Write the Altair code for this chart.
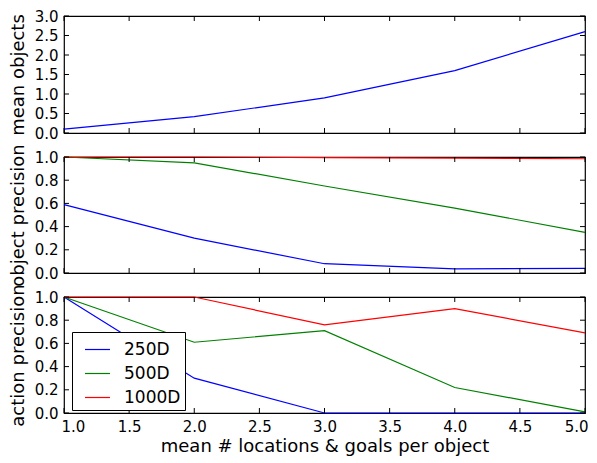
import altair as alt
import pandas as pd

x_vals = [1, 2, 3, 4, 5]
mean_objects = [0.1, 0.42, 0.9, 1.6, 2.6]

series_names = ["250D", "500D", "1000D"]
obj_prec_250 = [0.59, 0.30, 0.08, 0.035, 0.04]
obj_prec_500 = [1.0, 0.95, 0.75, 0.56, 0.35]
obj_prec_1000 = [1.0, 1.0, 0.995, 0.99, 0.985]
act_prec_250 = [1.0, 0.30, 0.0, 0.0, 0.0]
act_prec_500 = [1.0, 0.61, 0.71, 0.22, 0.01]
act_prec_1000 = [1.0, 1.0, 0.76, 0.90, 0.69]

x_ticks = [1.0, 1.5, 2.0, 2.5, 3.0, 3.5, 4.0, 4.5, 5.0]
y_ticks_top = [0.0, 0.5, 1.0, 1.5, 2.0, 2.5, 3.0]
y_ticks_prec = [0.0, 0.2, 0.4, 0.6, 0.8, 1.0]

colors = ["#0000ff", "#008000", "#ff0000"]

W = 521
FONT = "DejaVu Sans"
TICK = 5

df_top = pd.DataFrame({"x": x_vals, "y": mean_objects})


def long_df(lists):
    rows = []
    for name, vals in zip(series_names, lists):
        for xv, yv in zip(x_vals, vals):
            rows.append({"x": xv, "y": yv, "series": name})
    return pd.DataFrame(rows)


df_obj = long_df([obj_prec_250, obj_prec_500, obj_prec_1000])
df_act = long_df([act_prec_250, act_prec_500, act_prec_1000])

xscale = alt.Scale(domain=[1, 5], nice=False, zero=False)
color_scale = alt.Scale(domain=series_names, range=colors)


def yaxis(title, vals):
    return alt.Axis(title=title, values=vals, format=".1f", ticks=False,
                    domain=False, grid=False, labelPadding=6, titlePadding=7,
                    labelFlush=False, labelOverlap=False)


def xaxis(show):
    if show:
        return alt.Axis(title="mean # locations & goals per object", values=x_ticks,
                        format=".1f", ticks=False, domain=False, grid=False,
                        labelPadding=6, titlePadding=3, labelFlush=True,
                        labelFlushOffset=3, labelOverlap=False)
    return alt.Axis(title=None, labels=False, ticks=False, domain=False, grid=False)


def tick_layers(yscale, yt, H, xax, yax):
    xt = pd.DataFrame({"x": x_ticks})
    ytd = pd.DataFrame({"y": yt})
    layers = []
    for y0, y1 in [(0, TICK), (H - TICK, H)]:
        layers.append(
            alt.Chart(xt).mark_rule(color="black", strokeWidth=1).encode(
                x=alt.X("x:Q", scale=xscale, axis=xax),
                y=alt.value(y0), y2=alt.value(y1)))
    for x0, x1 in [(0, TICK), (W - TICK, W)]:
        layers.append(
            alt.Chart(ytd).mark_rule(color="black", strokeWidth=1).encode(
                y=alt.Y("y:Q", scale=yscale, axis=yax),
                x=alt.value(x0), x2=alt.value(x1)))
    return layers


# top panel
ys_top = alt.Scale(domain=[0, 3], nice=False)
H1 = 117
xa1 = xaxis(False)
ya1 = yaxis("mean objects", y_ticks_top)
top_line = alt.Chart(df_top).mark_line(strokeWidth=1.2, color="#0000ff").encode(
    x=alt.X("x:Q", scale=xscale, axis=xa1),
    y=alt.Y("y:Q", scale=ys_top, axis=ya1),
)
top = alt.layer(top_line, *tick_layers(ys_top, y_ticks_top, H1, xa1, ya1)).properties(width=W, height=H1)

# middle panel
ys_p = alt.Scale(domain=[0, 1], nice=False)
H2 = 116
xa2 = xaxis(False)
ya2 = yaxis("object precision", y_ticks_prec)
mid_line = alt.Chart(df_obj).mark_line(strokeWidth=1.2).encode(
    x=alt.X("x:Q", scale=xscale, axis=xa2),
    y=alt.Y("y:Q", scale=ys_p, axis=ya2),
    color=alt.Color("series:N", scale=color_scale, sort=series_names, legend=None),
    detail="series:N",
)
mid = alt.layer(mid_line, *tick_layers(ys_p, y_ticks_prec, H2, xa2, ya2)).properties(width=W, height=H2)

# bottom panel
H3 = 116
xa3 = xaxis(True)
ya3 = yaxis("action precision", y_ticks_prec)
bot_line = alt.Chart(df_act).mark_line(strokeWidth=1.2).encode(
    x=alt.X("x:Q", scale=xscale, axis=xa3),
    y=alt.Y("y:Q", scale=ys_p, axis=ya3),
    color=alt.Color("series:N", scale=color_scale, sort=series_names,
                    legend=alt.Legend(title=None, orient="none", legendX=8, legendY=35,
                                      symbolType="stroke", symbolSize=625,
                                      symbolStrokeWidth=1.2, labelFontSize=17,
                                      labelFont=FONT, labelOffset=13, rowPadding=2,
                                      padding=4, symbolOffset=8, strokeColor="black",
                                      fillColor="white", cornerRadius=0)),
    detail="series:N",
)
bot = alt.layer(bot_line, *tick_layers(ys_p, y_ticks_prec, H3, xa3, ya3)).properties(width=W, height=H3)

chart = alt.vconcat(top, mid, bot, spacing=24, bounds="flush").resolve_legend(color="independent").properties(
    padding={"left": 0, "top": 0, "right": 0, "bottom": 0}
).configure_view(stroke="black", strokeWidth=1.2).configure_axis(
    labelFont=FONT, titleFont=FONT, labelFontSize=15, titleFontSize=18,
    labelColor="black", titleColor="black", titleFontWeight="normal",
).configure_legend(labelColor="black")

chart.save("out.html", embed_options={"renderer": "svg", "actions": False})
